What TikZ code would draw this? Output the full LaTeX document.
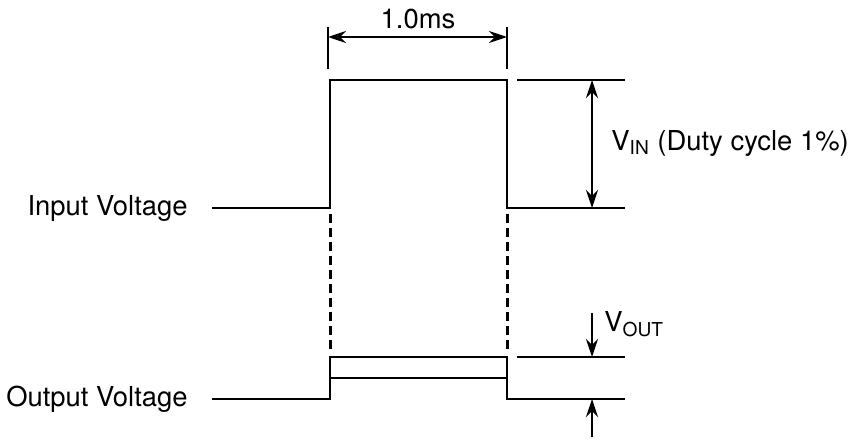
\documentclass[tikz,border=0pt]{standalone}
\usepackage{fontspec}
\setmainfont{TeX Gyre Heros}
\usepackage{tikz}
\usetikzlibrary{arrows.meta}

\begin{document}
\begin{tikzpicture}[
    x=0.5pt, y=-0.5pt,
    wave/.style={line width=1.1pt},
    guide/.style={line width=1.5pt, dash pattern=on 4.5pt off 2.5pt},
    dim/.style={{Stealth[length=9pt, width=6pt]}-{Stealth[length=9pt, width=6pt]}, line width=1pt},
    ptr/.style={-{Stealth[length=9pt, width=6pt]}, line width=1pt},
    lbl/.style={font=\fontsize{13.7}{15}\selectfont, inner sep=0pt}
]
\useasboundingbox (0,0) rectangle (854,439);

% corner points of the pulses
\coordinate (inlo) at (212,208);
\coordinate (inup) at (330,208);
\coordinate (indn) at (507,208);
\coordinate (inend) at (625,208);
\coordinate (outlo) at (212,399);
\coordinate (outup) at (330,399);
\coordinate (outdn) at (507,399);
\coordinate (outend) at (625,399);

% input pulse
\draw[wave] (inlo) -- (inup) -- (330,80) -- (507,80) -- (indn) -- (inend);
\draw[wave] (517,80) -- (625,80);

% output pulse
\draw[wave] (outlo) -- (outup) -- (330,357) -- (507,357) -- (outdn) -- (outend);
\draw[wave] (330,378) -- (507,378);
\draw[wave] (517,357) -- (625,357);

% guides between the two traces
\draw[guide] (330,214) -- (330,349);
\draw[guide] (507,214) -- (507,349);

% width of the pulse
\draw[wave] (328,27) -- (328,69);
\draw[wave] (507,27) -- (507,69);
\coordinate (wl) at (328,37);
\coordinate (wr) at (507,37);
\draw[dim] (wl) -- (wr);
\node[lbl] (width) at (418,19) {1.0ms};

% input amplitude
\coordinate (vt) at (592,80);
\coordinate (vb) at (592,208);
\draw[dim] (vt) -- (vb);
\node[lbl, anchor=west] (vin) at (611,143) {V\textsubscript{IN} (Duty cycle 1\%)};

% output amplitude
\coordinate (ot) at (592,313);
\coordinate (ob) at (592,437);
\draw[ptr] (ot) -- (592,357);
\draw[ptr] (ob) -- (592,399);
\node[lbl, anchor=west] (vout) at (604,324) {V\textsubscript{OUT}};

\node[lbl, anchor=east] (inlbl) at (188,208) {Input Voltage};
\node[lbl, anchor=east] (outlbl) at (188,399) {Output Voltage};
\end{tikzpicture}
\end{document}
